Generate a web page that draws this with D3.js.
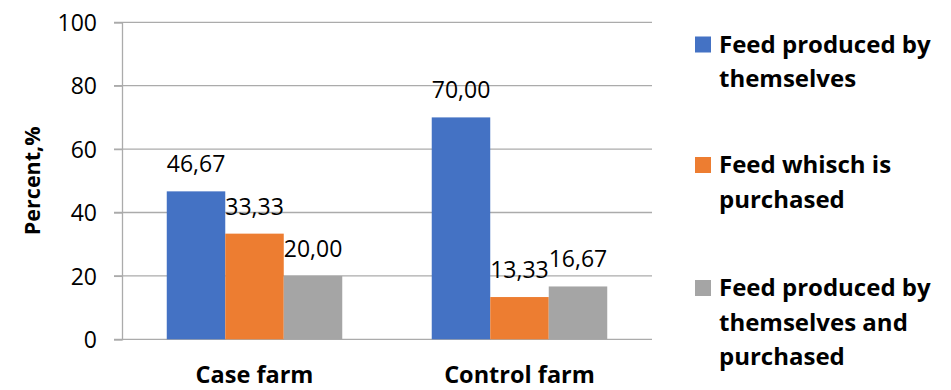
<!DOCTYPE html>
<html>
<head>
<meta charset="utf-8">
<script src="https://cdn.jsdelivr.net/npm/d3@7"></script>
<style>
  html, body { margin: 0; padding: 0; background: #fff; }
  svg { display: block; font-family: "Open Sans", "Noto Sans", sans-serif; }
</style>
</head>
<body>
<svg id="chart" width="951" height="390"></svg>
<script>
// Feed source shares by farm type, percent
const categories = ["Case farm", "Control farm"];
const seriesNames = [
  ["Feed produced by", "themselves"],
  ["Feed whisch is", "purchased"],
  ["Feed produced by", "themselves and", "purchased"]
];
const seriesKeys = ["own", "bought", "both"];
const ownValues = [46.67, 70.00];
const boughtValues = [33.33, 13.33];
const bothValues = [20.00, 16.67];
const yTicks = [0, 20, 40, 60, 80, 100];
const colors = ["#4472C4", "#ED7D31", "#A5A5A5"];

const rows = categories.map((c, i) => ({
  category: c,
  values: [ownValues[i], boughtValues[i], bothValues[i]]
}));

const svg = d3.select("#chart");
const plot = { left: 122, right: 652, top: 22.3, bottom: 339.3 };
const ink = "#000";

const x0 = d3.scaleBand()
  .domain(categories)
  .range([plot.left, plot.right])
  .paddingInner(0.3377)
  .paddingOuter(0.1689);

const x1 = d3.scaleBand()
  .domain(seriesKeys)
  .range([0, x0.bandwidth()])
  .padding(0);

const y = d3.scaleLinear().domain([0, 100]).range([plot.bottom, plot.top]);

const gridColor = "#ABABAB";

// horizontal gridlines
svg.append("g")
  .selectAll("line")
  .data(yTicks)
  .join("line")
  .attr("x1", plot.left - 8)
  .attr("x2", plot.right)
  .attr("y1", d => y(d))
  .attr("y2", d => y(d))
  .attr("stroke", gridColor)
  .attr("stroke-width", 1.3);

// y axis with tick labels
const yAxis = svg.append("g")
  .attr("transform", `translate(${plot.left},0)`)
  .call(d3.axisLeft(y).tickValues(yTicks).tickSize(8).tickPadding(17).tickFormat(d3.format("d")));
yAxis.select(".domain").attr("stroke", gridColor).attr("stroke-width", 1.3);
yAxis.selectAll(".tick line").attr("stroke", gridColor).attr("stroke-width", 1.3);
yAxis.selectAll(".tick text")
  .attr("font-size", 23)
  .attr("font-family", "Open Sans, sans-serif")
  .attr("fill", ink)
  .attr("dy", "0.36em");

// y axis title
svg.append("text")
  .attr("transform", `translate(40,${(plot.top + plot.bottom) / 2}) rotate(-90)`)
  .attr("text-anchor", "middle")
  .attr("font-size", 21.5)
  .attr("font-weight", "bold")
  .attr("fill", ink)
  .text("Percent,%");

// bars
const groups = svg.append("g")
  .selectAll("g")
  .data(rows)
  .join("g")
  .attr("transform", d => `translate(${x0(d.category)},0)`);

groups.selectAll("rect")
  .data(d => d.values.map((v, i) => ({ key: seriesKeys[i], value: v, i })))
  .join("rect")
  .attr("x", d => x1(d.key))
  .attr("width", x1.bandwidth())
  .attr("y", d => y(d.value))
  .attr("height", d => y(0) - y(d.value))
  .attr("fill", d => colors[d.i]);

// value labels
groups.selectAll("text.val")
  .data(d => d.values.map((v, i) => ({ key: seriesKeys[i], value: v, i })))
  .join("text")
  .attr("class", "val")
  .attr("x", d => x1(d.key) + x1.bandwidth() / 2)
  .attr("y", d => y(d.value) - 19)
  .attr("text-anchor", "middle")
  .attr("font-size", 23)
  .attr("fill", ink)
  .text(d => d3.format(".2f")(d.value).replace(".", ","));

// category labels
svg.append("g")
  .selectAll("text")
  .data(categories)
  .join("text")
  .attr("x", d => x0(d) + x0.bandwidth() / 2)
  .attr("y", 383)
  .attr("text-anchor", "middle")
  .attr("font-size", 23.5)
  .attr("font-weight", "bold")
  .attr("fill", ink)
  .text(d => d);

// legend
const legendTop = [52.5, 173, 296];
const legend = svg.append("g")
  .selectAll("g")
  .data(seriesNames)
  .join("g")
  .attr("transform", (d, i) => `translate(695,${legendTop[i]})`);

legend.append("rect")
  .attr("x", 0)
  .attr("y", -16)
  .attr("width", 16)
  .attr("height", 16)
  .attr("fill", (d, i) => colors[i]);

legend.append("text")
  .attr("x", 24)
  .attr("y", 0)
  .attr("font-size", 24)
  .attr("font-weight", "bold")
  .attr("fill", ink)
  .selectAll("tspan")
  .data(d => d)
  .join("tspan")
  .attr("x", 24)
  .attr("dy", (d, j) => j === 0 ? 0 : 34.5)
  .text(d => d);
</script>
</body>
</html>
